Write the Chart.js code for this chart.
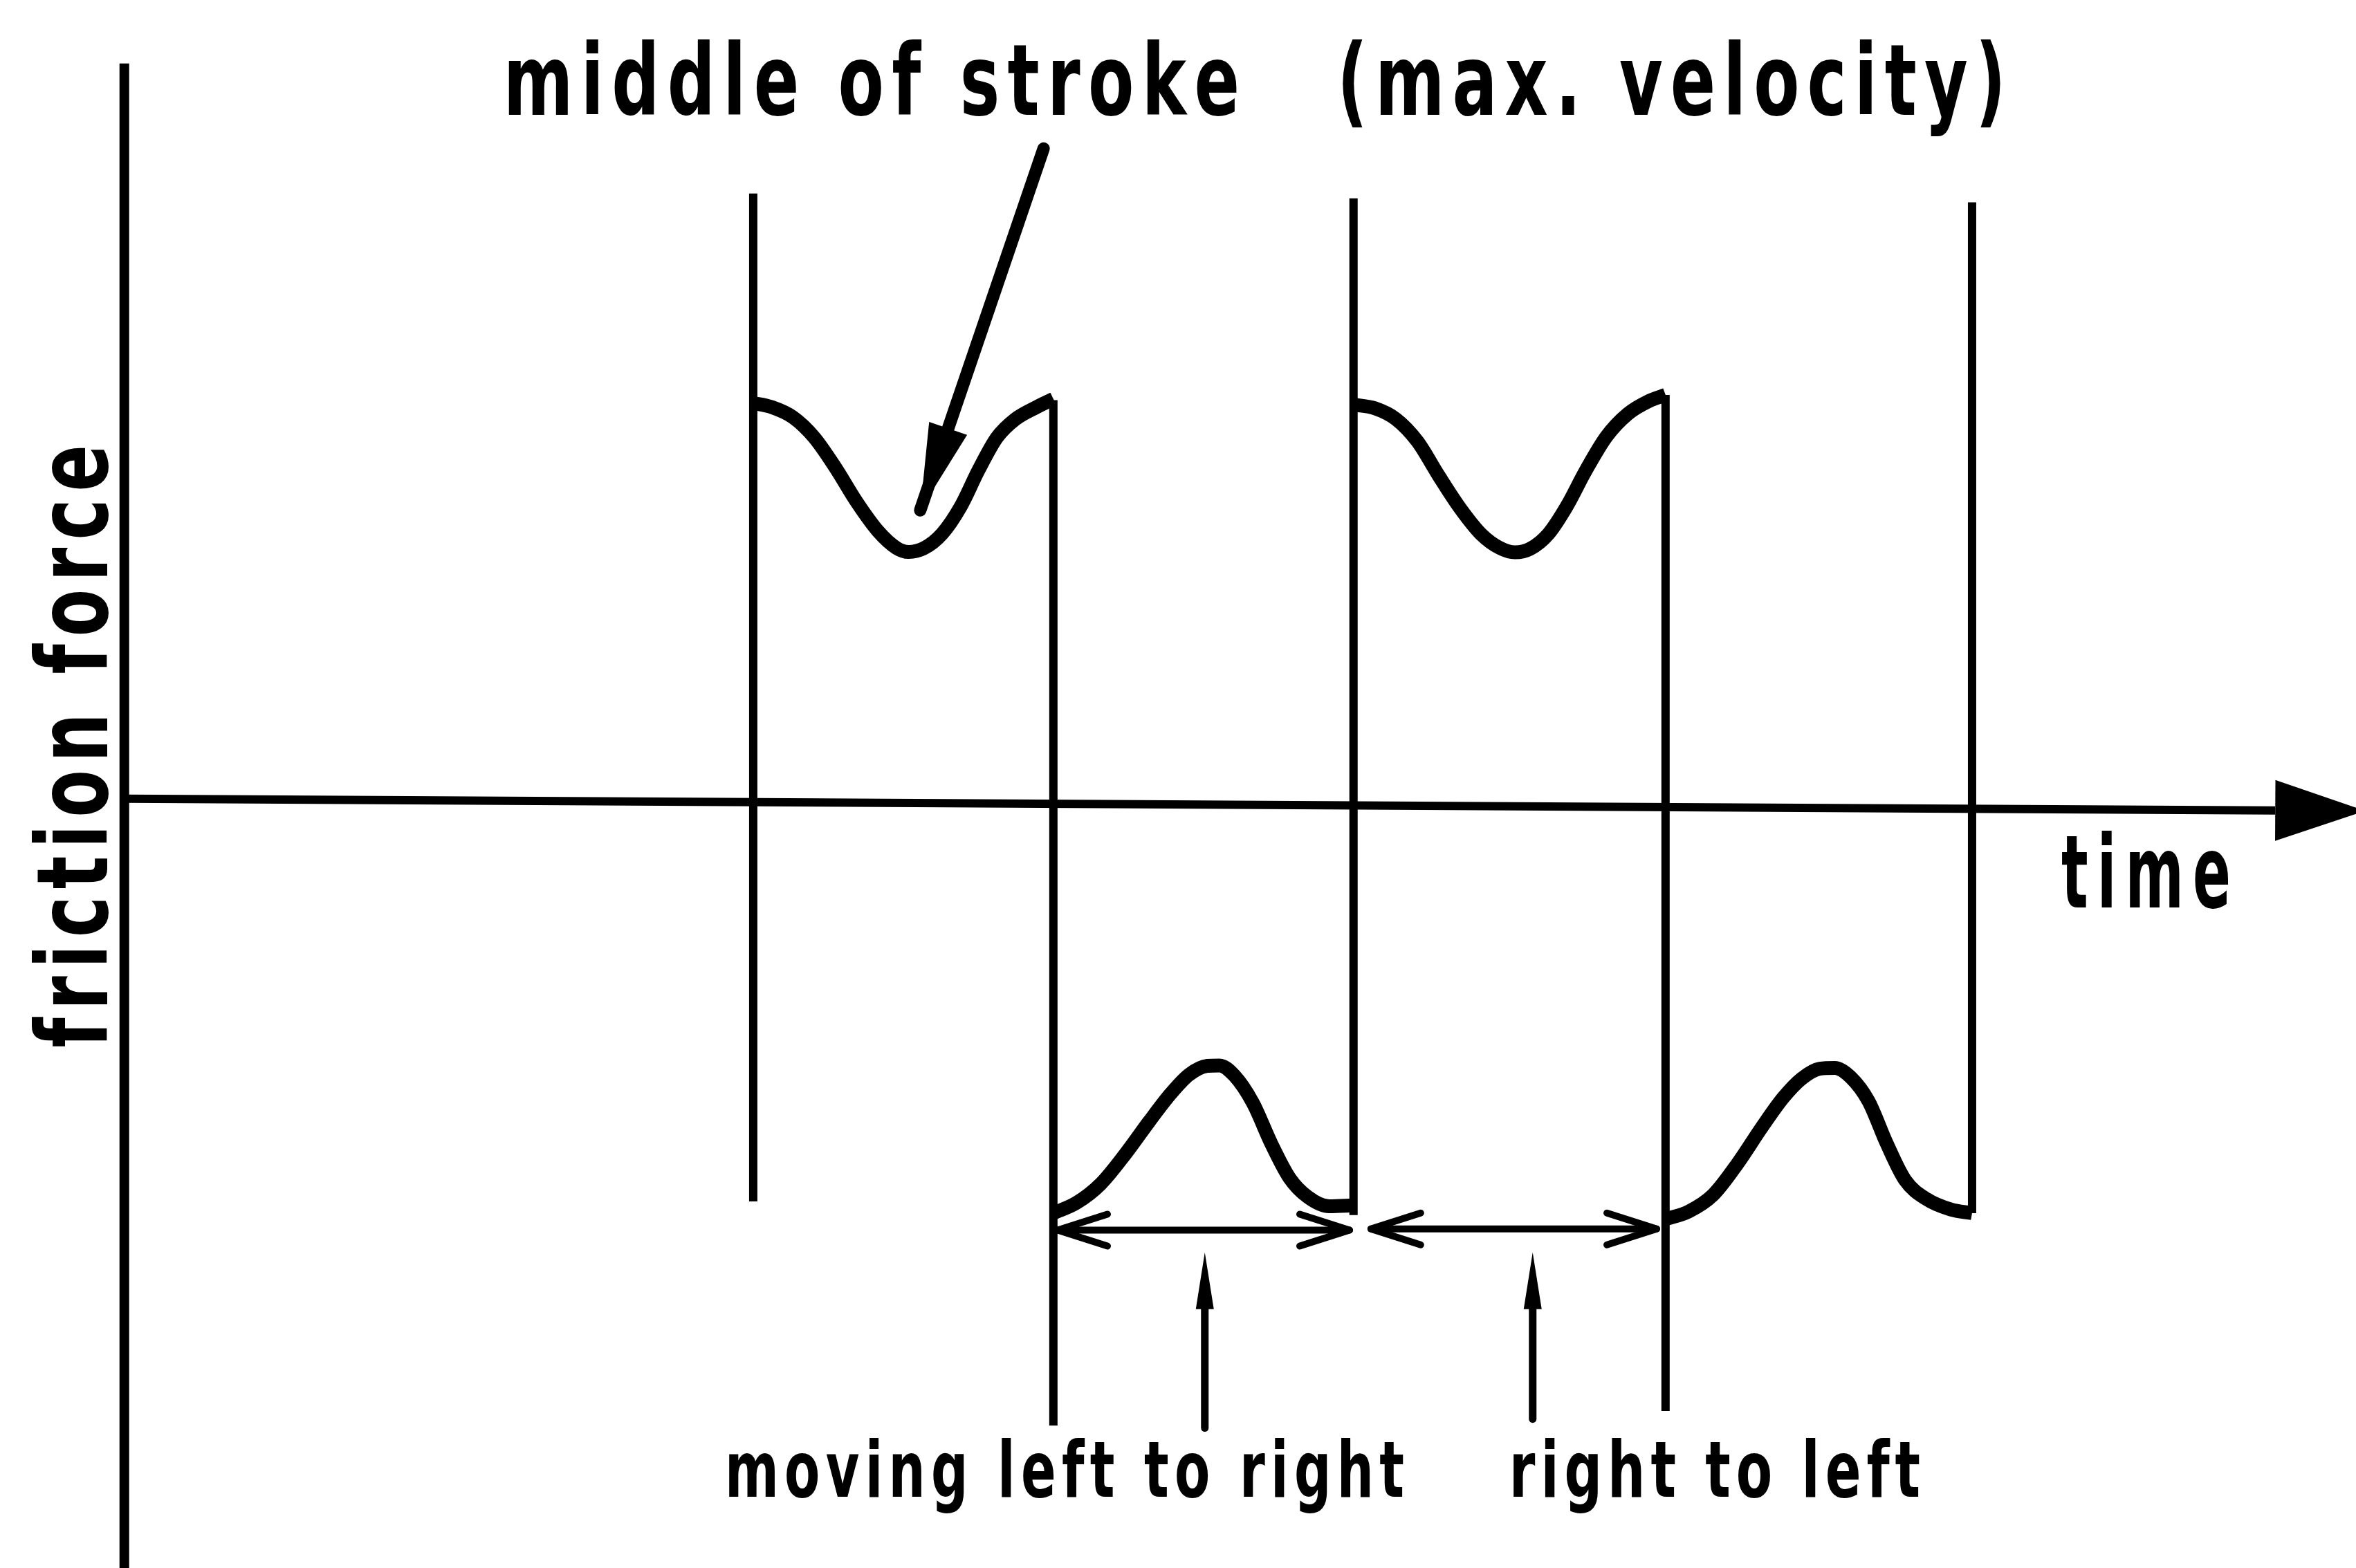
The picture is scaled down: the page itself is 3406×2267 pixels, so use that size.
<!DOCTYPE html>
<html>
<head>
<meta charset="utf-8">
<script src="https://cdn.jsdelivr.net/npm/chart.js"></script>
<style>
  html, body { margin: 0; padding: 0; background: #fff; overflow: hidden; }
  canvas { display: block; }
</style>
</head>
<body>
<canvas id="frictionChart" width="3406" height="2267"></canvas>
<script>
// friction force over reciprocating strokes (time in stroke units, force normalised)
const strokeTimes1 = [0, 0.06, 0.13, 0.20, 0.27, 0.34, 0.41, 0.47, 0.51, 0.56, 0.62, 0.68, 0.74, 0.80, 0.86, 0.93, 0.985];
const strokeForce1 = [0.995, 0.985, 0.960, 0.910, 0.835, 0.750, 0.678, 0.637, 0.627, 0.636, 0.672, 0.738, 0.830, 0.910, 0.955, 0.985, 1.005];

const strokeTimes2 = [0.985, 1.06, 1.14, 1.22, 1.30, 1.37, 1.43, 1.49, 1.53, 1.58, 1.64, 1.70, 1.76, 1.82, 1.89, 1.970];
const strokeForce2 = [-1.007, -0.982, -0.935, -0.862, -0.780, -0.712, -0.665, -0.643, -0.642, -0.668, -0.735, -0.835, -0.920, -0.967, -0.990, -0.988];

const strokeTimes3 = [1.970, 2.04, 2.11, 2.18, 2.25, 2.32, 2.39, 2.45, 2.50, 2.55, 2.61, 2.67, 2.73, 2.80, 2.87, 2.94, 2.994];
const strokeForce3 = [0.991, 0.982, 0.955, 0.900, 0.815, 0.735, 0.670, 0.637, 0.626, 0.635, 0.672, 0.740, 0.825, 0.912, 0.968, 1.000, 1.015];

const strokeTimes4 = [2.994, 3.07, 3.15, 3.23, 3.31, 3.38, 3.44, 3.50, 3.55, 3.60, 3.66, 3.72, 3.78, 3.85, 3.93, 4.000];
const strokeForce4 = [-1.022, -1.003, -0.962, -0.885, -0.795, -0.722, -0.675, -0.650, -0.648, -0.670, -0.730, -0.835, -0.925, -0.972, -0.998, -1.007];

// stroke reversals (vertical lines)
const reversalTimes = [0, 0.985, 1.970, 2.994, 4.000];
const reversalTop = [1.513, 1.002, 1.501, 1.015, 1.491];
const reversalBottom = [-0.978, -1.532, -1.012, -1.496, -1.007];

// axes
const timeAxisT = [-2.064, 4.995];
const timeAxisF = [0.017, -0.012];
const timeAxisTip = [5.29, -0.013];
const forceAxisT = [-2.064, -2.064];
const forceAxisF = [1.834, -1.95];

// annotations (data units)
const pointerArrow = [[0.953, 1.624], [0.548, 0.730]];
const strokeSpans = [[0.999, 1.957, -1.049], [2.027, 2.965, -1.046]];
const upArrows = [[1.482, -1.538, -1.104], [2.558, -1.516, -1.104]];

const labelTexts = ['middle of stroke', '(max. velocity)', 'time', 'moving left to right', 'right to left'];
const labelFrom = [-0.820, 1.916, 4.293, -0.093, 2.481];
const labelTo = [1.596, 4.111, 4.849, 2.136, 3.830];
const labelBase = [1.708, 1.708, -0.251, -1.708, -1.708];
const labelSize = [143, 143, 146, 112, 112];
const yTitle = 'friction force';

function pts(ts, fs) {
  return ts.map((t, i) => ({ x: t, y: fs[i] }));
}

const lineStyle = { showLine: true, pointRadius: 0, borderColor: '#000', backgroundColor: '#000', fill: false };

const datasets = [];
[[strokeTimes1, strokeForce1], [strokeTimes2, strokeForce2], [strokeTimes3, strokeForce3], [strokeTimes4, strokeForce4]].forEach(s => {
  datasets.push(Object.assign({}, lineStyle, { data: pts(s[0], s[1]), borderWidth: 20, cubicInterpolationMode: 'monotone', borderJoinStyle: 'round' }));
});
reversalTimes.forEach((t, i) => {
  datasets.push(Object.assign({}, lineStyle, { data: pts([t, t], [reversalTop[i], reversalBottom[i]]), borderWidth: 12 }));
});
datasets.push(Object.assign({}, lineStyle, { data: pts(timeAxisT, timeAxisF), borderWidth: 12 }));
datasets.push(Object.assign({}, lineStyle, { data: pts(forceAxisT, forceAxisF), borderWidth: 14 }));

const FONT = '"DejaVu Sans", sans-serif';

// hand-lettered look: narrow glyphs, wide spacing, fitted to the measured width
function spacedText(ctx, text, x, y, width, size) {
  ctx.font = 'bold ' + size + 'px ' + FONT;
  const chars = [...text];
  const ws = chars.map(c => ctx.measureText(c).width);
  const total = ws.reduce((a, b) => a + b, 0);
  const sx = 0.84 * width / total;
  const gap = chars.length > 1 ? 0.16 * width / (chars.length - 1) : 0;
  let cx = x;
  chars.forEach((c, i) => {
    ctx.save();
    ctx.translate(cx, y);
    ctx.scale(sx, 1);
    ctx.fillText(c, 0, 0);
    ctx.restore();
    cx += ws[i] * sx + gap;
  });
}

function arrowHead(ctx, tip, from, len, hw, filled) {
  const dx = tip[0] - from[0], dy = tip[1] - from[1];
  const d = Math.hypot(dx, dy);
  const ux = dx / d, uy = dy / d, nx = -uy, ny = ux;
  const bx = tip[0] - ux * len, by = tip[1] - uy * len;
  ctx.beginPath();
  ctx.moveTo(bx + nx * hw, by + ny * hw);
  ctx.lineTo(tip[0], tip[1]);
  ctx.lineTo(bx - nx * hw, by - ny * hw);
  if (filled) { ctx.closePath(); ctx.fill(); } else { ctx.stroke(); }
}

const sketch = {
  id: 'sketch',
  afterDatasetsDraw(chart) {
    const ctx = chart.ctx;
    const xs = chart.scales.x, ys = chart.scales.y;
    const P = (t, f) => [xs.getPixelForValue(t), ys.getPixelForValue(f)];
    ctx.save();
    ctx.fillStyle = '#000';
    ctx.strokeStyle = '#000';
    ctx.lineCap = 'round';
    ctx.lineJoin = 'round';

    // time axis arrow head
    const base = P(timeAxisT[1], timeAxisF[1]);
    const tip = P(timeAxisTip[0], timeAxisTip[1]);
    arrowHead(ctx, tip, P(timeAxisT[0], timeAxisF[0]), tip[0] - base[0], 44, true);

    // pointer to middle of stroke
    const a = P(pointerArrow[0][0], pointerArrow[0][1]);
    const b = P(pointerArrow[1][0], pointerArrow[1][1]);
    ctx.lineWidth = 18;
    ctx.beginPath(); ctx.moveTo(a[0], a[1]); ctx.lineTo(b[0], b[1]); ctx.stroke();
    arrowHead(ctx, b, a, 125, 29, true);

    // stroke span double arrows
    ctx.lineWidth = 10;
    strokeSpans.forEach(s => {
      const l = P(s[0], s[2]), r = P(s[1], s[2]);
      ctx.beginPath(); ctx.moveTo(l[0], l[1]); ctx.lineTo(r[0], r[1]); ctx.stroke();
      arrowHead(ctx, l, r, 72, 23, false);
      arrowHead(ctx, r, l, 72, 23, false);
    });

    // up arrows from the labels
    ctx.lineWidth = 11;
    upArrows.forEach(u => {
      const tail = P(u[0], u[1]), top = P(u[0], u[2]);
      ctx.beginPath(); ctx.moveTo(tail[0], tail[1]); ctx.lineTo(top[0], top[1] + 40); ctx.stroke();
      arrowHead(ctx, top, tail, 82, 13, true);
    });

    // labels
    ctx.textBaseline = 'alphabetic';
    ctx.textAlign = 'left';
    labelTexts.forEach((txt, i) => {
      const l = P(labelFrom[i], labelBase[i]);
      const r = P(labelTo[i], labelBase[i]);
      spacedText(ctx, txt, l[0], l[1], r[0] - l[0], labelSize[i]);
    });

    // rotated y title
    const yb = P(-2.120, -0.598), yt = P(-2.120, 0.892);
    ctx.translate(yb[0], yb[1]);
    ctx.rotate(-Math.PI / 2);
    spacedText(ctx, yTitle, 0, 0, yb[1] - yt[1], 143);
    ctx.restore();
  }
};

new Chart(document.getElementById('frictionChart'), {
  type: 'scatter',
  data: { datasets: datasets },
  options: {
    responsive: false,
    animation: false,
    events: [],
    layout: { padding: 0 },
    plugins: { legend: { display: false }, tooltip: { enabled: false }, title: { display: false } },
    scales: {
      x: { type: 'linear', display: false, min: -2.472, max: 5.260 },
      y: { type: 'linear', display: false, min: -1.884, max: 1.991 }
    }
  },
  plugins: [sketch]
});
</script>
</body>
</html>
